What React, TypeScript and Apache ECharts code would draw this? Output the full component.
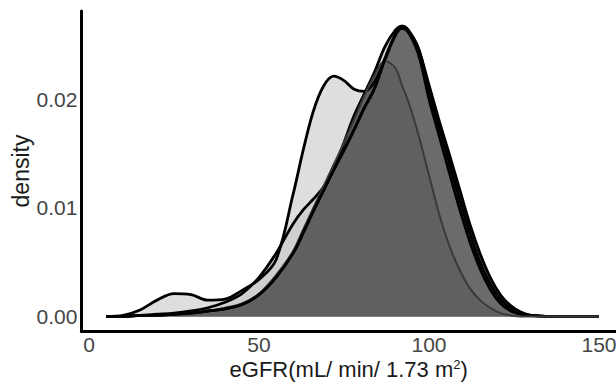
import React, { useEffect, useRef } from "react";
import * as echarts from "echarts";

const xGrid = [5, 10, 15, 20, 25, 30, 35, 40, 45, 50, 55, 60, 63, 66, 69, 72, 75, 78, 81, 84, 87, 90, 92, 94, 97, 100, 103, 106, 109, 112, 115, 118, 121, 124, 127, 130, 135, 140, 150];

const densityA = [0, 0.0001, 0.0006, 0.0015, 0.0021, 0.002, 0.0015, 0.0016, 0.0024, 0.0034, 0.0052, 0.0112, 0.0153, 0.0189, 0.0212, 0.0221, 0.0217, 0.0209, 0.0207, 0.0216, 0.0236, 0.0258, 0.0265, 0.0261, 0.024, 0.02, 0.0166, 0.0132, 0.0099, 0.0069, 0.0044, 0.0025, 0.0012, 0.0005, 0.0002, 0.0001, 0, 0, 0];
const densityB = [0, 0, 0.0001, 0.0002, 0.0003, 0.0005, 0.0008, 0.0013, 0.0021, 0.0036, 0.0058, 0.0085, 0.0098, 0.0108, 0.0119, 0.0135, 0.016, 0.0185, 0.0205, 0.0225, 0.0248, 0.0263, 0.0267, 0.0263, 0.0246, 0.0208, 0.0174, 0.0141, 0.0108, 0.0077, 0.005, 0.003, 0.0016, 0.0007, 0.0002, 0.0001, 0, 0, 0];
const densityC = [0, 0, 0.0001, 0.0001, 0.0002, 0.0003, 0.0005, 0.0007, 0.0011, 0.002, 0.0036, 0.0058, 0.0077, 0.0097, 0.0116, 0.0135, 0.0153, 0.0172, 0.0192, 0.021, 0.0237, 0.0259, 0.0267, 0.0263, 0.0245, 0.0213, 0.018, 0.0149, 0.0117, 0.0085, 0.0058, 0.0036, 0.002, 0.001, 0.0004, 0.0001, 0, 0, 0];
const densityD = [0, 0, 0.0001, 0.0001, 0.0002, 0.0003, 0.0005, 0.0008, 0.0012, 0.0021, 0.0038, 0.006, 0.008, 0.01, 0.012, 0.014, 0.016, 0.0181, 0.0203, 0.0222, 0.0235, 0.0229, 0.0213, 0.0197, 0.0166, 0.013, 0.0094, 0.0065, 0.0043, 0.0026, 0.0015, 0.0008, 0.0003, 0.0001, 0, 0, 0, 0, 0];

const xTicks = [0, 50, 100, 150];
const yTicks = [0, 0.01, 0.02];
const xTitle = "eGFR(mL/ min/ 1.73 m{sup|2})";
const yTitle = "density";

const pairs = (ys: number[]) => xGrid.map((x, i) => [x, ys[i]]);

export default function App() {
  const ref = useRef<HTMLDivElement>(null);
  useEffect(() => {
    if (!ref.current) return;
    const chart = echarts.init(ref.current, undefined, { renderer: "svg" });
    const font = "'Liberation Sans', Arial, sans-serif";
    const base = {
      type: "line",
      smooth: 0.35,
      showSymbol: false,
      symbol: "none",
      silent: true,
    };
    chart.setOption({
      animation: false,
      backgroundColor: "#ffffff",
      textStyle: { fontFamily: font },
      grid: {
        left: 81.35,
        right: 0,
        top: 11,
        bottom: 53,
        containLabel: false,
        outerBoundsMode: "none",
      },
      xAxis: {
        type: "value",
        min: -2.25,
        max: 155,
        splitLine: { show: false },
        axisTick: { show: false },
        axisLine: { onZero: false, lineStyle: { color: "#000", width: 3 } },
        axisLabel: {
          customValues: xTicks,
          color: "#454545",
          fontSize: 21,
          lineHeight: 21,
          fontFamily: font,
          margin: 3,
          hideOverlap: false,
          formatter: (v: number) => String(v),
        },
        name: xTitle,
        nameLocation: "middle",
        nameGap: 27,
        nameMoveOverlap: false,
        nameTextStyle: {
          color: "#1a1a1a",
          fontSize: 22,
          lineHeight: 22,
          fontFamily: font,
          rich: {
            sup: { fontSize: 13, fontFamily: font, color: "#1a1a1a", verticalAlign: "top", lineHeight: 22 },
          },
        },
      },
      yAxis: {
        type: "value",
        min: -0.00134,
        max: 0.0281,
        splitLine: { show: false },
        axisTick: { show: false },
        axisLine: { onZero: false, lineStyle: { color: "#000", width: 3 } },
        axisLabel: {
          customValues: yTicks,
          color: "#454545",
          fontSize: 21,
          fontFamily: font,
          margin: 4,
          formatter: (v: number) => v.toFixed(2),
        },
        name: yTitle,
        nameLocation: "middle",
        nameGap: 49,
        nameMoveOverlap: false,
        nameTextStyle: { color: "#1a1a1a", fontSize: 23, fontFamily: font },
      },
      series: [
        {
          ...base,
          name: "A",
          data: pairs(densityA),
          lineStyle: { color: "#000", width: 2.8 },
          areaStyle: { color: "#dedede", opacity: 1 },
        },
        {
          ...base,
          name: "B",
          data: pairs(densityB),
          lineStyle: { color: "#000", width: 2.8 },
          areaStyle: { color: "#d0d0d0", opacity: 1 },
        },
        {
          ...base,
          name: "C",
          data: pairs(densityC),
          lineStyle: { color: "#000", width: 2.8 },
          areaStyle: { color: "#6b6b6b", opacity: 1 },
        },
        {
          ...base,
          name: "D",
          data: pairs(densityD),
          lineStyle: { color: "#3a3a3a", width: 2 },
          areaStyle: { color: "#606060", opacity: 1 },
        },
        {
          ...base,
          name: "C outline",
          data: pairs(densityC).filter((p) => (p[0] as number) <= 88),
          lineStyle: { color: "#000", width: 2.8 },
        },
      ],
    });
    return () => chart.dispose();
  }, []);
  return (
    <div
      ref={ref}
      style={{ position: "fixed", left: 0, top: 0, width: 616, height: 384 }}
    />
  );
}
